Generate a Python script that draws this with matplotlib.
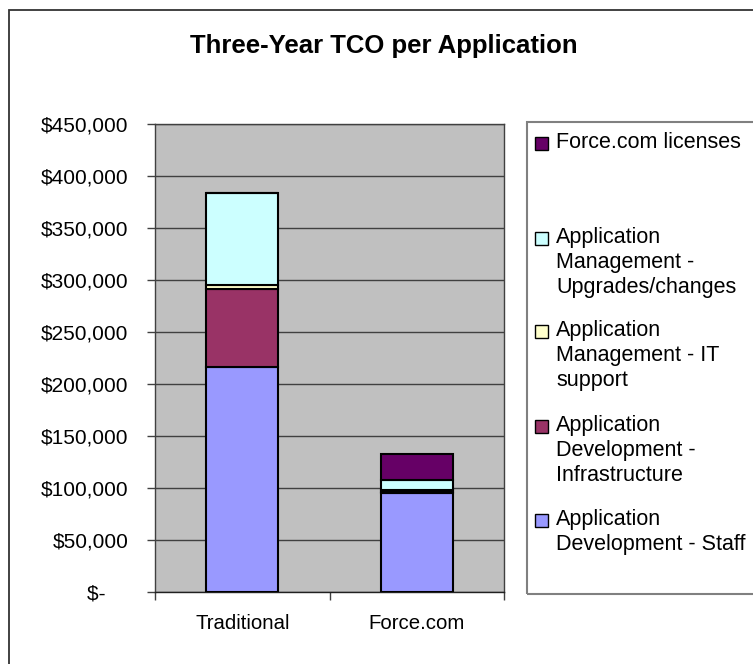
import matplotlib.pyplot as plt
from matplotlib.patches import Rectangle
from matplotlib.ticker import FuncFormatter, FixedLocator

plt.rcParams['font.family'] = ['Liberation Sans', 'DejaVu Sans']

W, H = 753, 664

# data
categories = ['Traditional', 'Force.com']
staff = [216000, 95000]
infrastructure = [75000, 1000]
it_support = [3500, 1500]
upgrades = [89000, 10000]
licenses = [0, 25000]

series_names = [
    'Application\nDevelopment - Staff',
    'Application\nDevelopment -\nInfrastructure',
    'Application\nManagement - IT\nsupport',
    'Application\nManagement -\nUpgrades/changes',
    'Force.com licenses',
]
colors = ['#9999FF', '#993366', '#FFFFCC', '#CCFFFF', '#660066']
y_ticks = [0, 50000, 100000, 150000, 200000, 250000, 300000, 350000, 400000, 450000]


# pixel -> figure fraction helpers
def fx(x):
    return x / W


def fy(y):
    return 1 - y / H


fig = plt.figure(figsize=(W / 100, H / 100), dpi=100)

# outer chart border (right and bottom edges are cropped off)
fig.patches.append(Rectangle((fx(8.5), fy(700)), fx(800), fy(10) - fy(700),
                             transform=fig.transFigure, fill=False,
                             edgecolor='#333333', linewidth=1.3))

ax = fig.add_axes([fx(155), fy(591.7), fx(504) - fx(155), fy(123.5) - fy(591.7)])
ax.set_facecolor('#C0C0C0')

xs = list(range(len(categories)))
bottom = [0] * len(categories)
for vals, color in zip([staff, infrastructure, it_support, upgrades, licenses], colors):
    ax.bar(xs, vals, 0.41, bottom=bottom, color=color, edgecolor='black',
           linewidth=1.5, zorder=3)
    bottom = [b + v for b, v in zip(bottom, vals)]

ax.set_xlim(-0.5, 1.5)
ax.set_ylim(0, 450000)
ax.set_yticks(y_ticks)
ax.yaxis.set_major_formatter(FuncFormatter(
    lambda v, p: '$-    ' if v == 0 else '${:,.0f}'.format(v)))
ax.yaxis.grid(True, color='#404040', linewidth=1, zorder=1)
ax.tick_params(axis='y', length=6, width=1, color='#404040', pad=13,
               labelsize=15)

ax.set_xticks(xs)
ax.set_xticklabels(categories, fontsize=14.7)
ax.xaxis.set_minor_locator(FixedLocator([-0.5, 0.5, 1.5]))
ax.tick_params(axis='x', which='major', length=0, pad=16)
ax.tick_params(axis='x', which='minor', length=6, width=1, color='#404040')

for s in ax.spines.values():
    s.set_color('#404040')
    s.set_linewidth(1)
ax.spines['bottom'].set_color('#202020')

fig.text(fx(384), fy(46), 'Three-Year TCO per Application', ha='center',
         va='center', fontsize=18.5, fontweight='bold')

# legend box, drawn by hand to follow the reference spacing
fig.patches.append(Rectangle((fx(527), fy(594)), fx(300), fy(122) - fy(594),
                             transform=fig.transFigure, fill=False,
                             edgecolor='#808080', linewidth=1.5))
first_line_y = [517, 423, 328, 235, 140]
for name, color, ly in zip(series_names, colors, first_line_y):
    fig.patches.append(Rectangle((fx(535), fy(ly + 10)), fx(13), fy(0) - fy(13),
                                 transform=fig.transFigure, facecolor=color,
                                 edgecolor='black', linewidth=1))
    fig.text(fx(556), fy(ly - 8), name, ha='left', va='top', fontsize=15.5,
             linespacing=1.26)

fig.savefig('out.png', dpi=100)
